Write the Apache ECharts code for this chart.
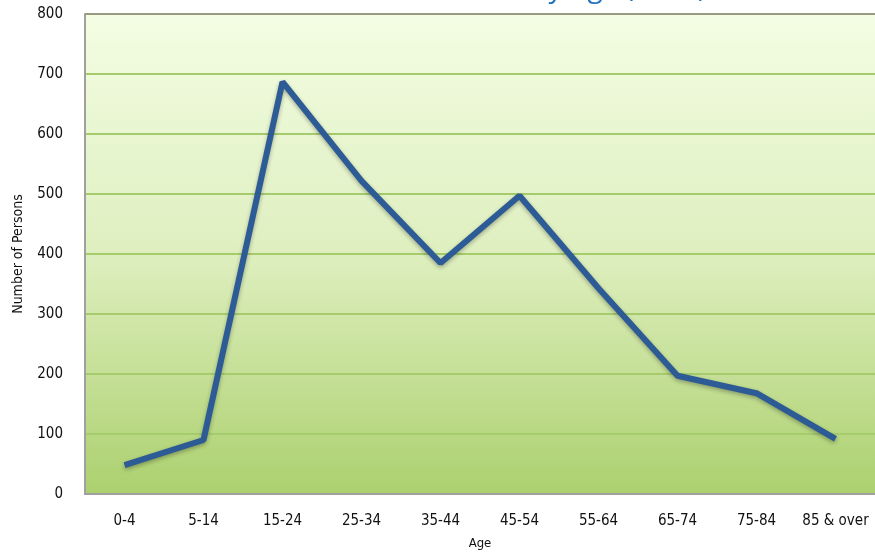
<!DOCTYPE html>
<html><head><meta charset="utf-8">
<script src="https://cdn.jsdelivr.net/npm/echarts@6/dist/echarts.min.js"></script>
<style>html,body{margin:0;padding:0;background:#fff}#c{width:875px;height:552px}</style>
</head><body><div id="c"></div>
<script>
var categories = ['0-4','5-14','15-24','25-34','35-44','45-54','55-64','65-74','75-84','85 & over'];
var persons = [48, 90, 687, 522, 385, 497, 343, 197, 168, 92];
var yTicks = [0, 100, 200, 300, 400, 500, 600, 700, 800];
var titleText = 'Number of Persons by Age (2010)';
var FONT = '"DejaVu Sans Condensed", "Liberation Sans Narrow", "Liberation Sans", sans-serif';
var chart = echarts.init(document.getElementById('c'));
chart.setOption({
  animation: false,
  title: {
    text: titleText, left: 265, top: -30,
    textStyle: {color: '#1f72bd', fontSize: 28, fontWeight: 'normal', fontFamily: '"Open Sans", sans-serif'}
  },
  grid: {
    left: 85, top: 14, right: 0, bottom: 58, show: true, borderWidth: 0,
    outerBoundsMode: 'none', containLabel: false,
    backgroundColor: new echarts.graphic.LinearGradient(0, 0, 0, 1, [
      {offset: 0, color: '#f3fde3'},
      {offset: 0.5, color: '#deefbf'},
      {offset: 1, color: '#acd06e'}
    ])
  },
  xAxis: {
    type: 'category', data: categories, boundaryGap: true,
    name: 'Age', nameLocation: 'middle', nameGap: 43,
    nameTextStyle: {color: '#111', fontSize: 13, fontFamily: FONT},
    axisLine: {lineStyle: {color: '#a0a0a0', width: 2}},
    axisTick: {show: false},
    axisLabel: {color: '#111', fontSize: 15, fontFamily: FONT, margin: 20, interval: 0}
  },
  yAxis: {
    type: 'value', min: 0, max: 800, interval: 100,
    name: 'Number of Persons', nameLocation: 'middle', nameGap: 60,
    nameTextStyle: {color: '#111', fontSize: 14, fontFamily: FONT},
    axisLine: {show: true, lineStyle: {color: '#a0a0a0', width: 2}},
    axisTick: {show: false},
    axisLabel: {color: '#111', fontSize: 15, fontFamily: FONT, margin: 22,
      formatter: function (v) { return yTicks.indexOf(v) >= 0 ? String(v) : ''; }},
    splitLine: {show: true, lineStyle: {color: '#a6cb6c', width: 2}}
  },
  series: [{
    type: 'line', data: persons, symbol: 'none',
    lineStyle: {color: '#2d5b95', width: 6, shadowColor: 'rgba(0,0,0,0.3)', shadowBlur: 4, shadowOffsetY: 2},
    z: 5
  }],
  graphic: [{
    type: 'line', shape: {x1: 85, y1: 14, x2: 875, y2: 14},
    style: {stroke: '#999a80', lineWidth: 2}, z: 10
  }]
});
</script></body></html>
